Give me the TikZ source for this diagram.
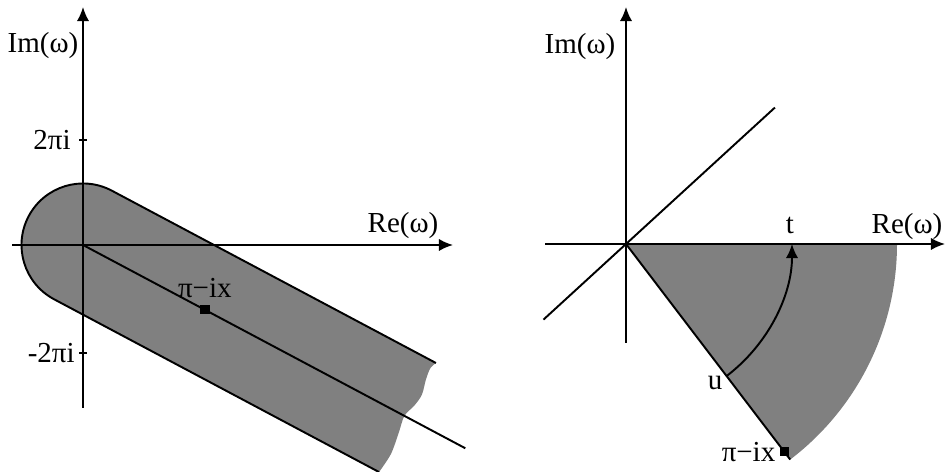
\documentclass[tikz,border=0pt]{standalone}
\usepackage{fontspec}
\setmainfont{Liberation Serif}
\usetikzlibrary{arrows.meta, positioning}

\begin{document}
\begin{tikzpicture}[x=0.02cm, y=0.02cm,
    axis/.style={-{Latex[length=8pt, width=7pt]}, line width=1.1pt},
    edge/.style={line width=1.1pt},
    region/.style={fill=black!50},
    lbl/.style={font=\fontsize{16.5}{19}\selectfont, inner sep=0pt},
    pt/.style={rectangle, fill=black, inner sep=0pt, minimum size=5.3pt},
]
\useasboundingbox (0,0) rectangle (946,472);

% left plane
\coordinate (o1) at (83,227);
\coordinate (xl1) at (12,227);
\coordinate (xr1) at (453,227);
\coordinate (yb1) at (83,64);
\coordinate (yt1) at (83,465);
\begin{scope}[shift={(o1)}, rotate=-28]
  \coordinate (top0) at (0,61.5);
  \coordinate (top1) at (367,61.5);
  \coordinate (bot1) at (368,-61.5);
  \coordinate (c1) at (433,0);
  \fill[region] (top0) arc[start angle=90, end angle=270, radius=61.5] -- (bot1)
     -- plot[smooth, tension=0.5] coordinates {(368,-61.5) (370,-40) (367,-18) (364,0) (368,14) (369.5,27) (366,42) (364.5,54) (367,61.5)}
     -- cycle;
  \draw[edge] (top1) -- (top0) arc[start angle=90, end angle=270, radius=61.5] -- (bot1);
  \node[pt] (p1) at (138,0) {};
\end{scope}
\draw[edge] (o1) -- (c1);
\draw[axis] (xl1) -- (xr1);
\draw[axis] (yb1) -- (yt1);
\coordinate (tk1) at (83,332);
\coordinate (tk2) at (83,119);
\draw[edge] (tk1) ++(-4,0) -- ++(8,0);
\draw[edge] (tk2) ++(-4,0) -- ++(8,0);
\node[lbl] (im1) at (43,426) {Im(ω)};
\node[lbl] (re1) at (403,246) {Re(ω)};
\node[lbl, anchor=east] (up1) at (71,332) {2πi};
\node[lbl, anchor=east] (dn1) at (75,119) {-2πi};
\node[lbl, above=4pt of p1.north] (lp1) {π−ix};

% right plane
\coordinate (o2) at (626,228);
\coordinate (xl2) at (545,228);
\coordinate (xr2) at (945,228);
\coordinate (yb2) at (626,129);
\coordinate (yt2) at (626,465);
\begin{scope}[shift={(o2)}]
  \coordinate (tip2) at (-52.7:271);
  \coordinate (d1) at (222.5:112);
  \coordinate (d2) at (42.5:202);
  \coordinate (u) at (-52.7:166);
  \coordinate (t) at (0:166);
  \fill[region] (0,0) -- (tip2) arc[start angle=-52.7, end angle=0, radius=271] -- cycle;
  \node[pt] (p2) at (-52.7:261) {};
\end{scope}
\draw[edge] (o2) -- (tip2);
\draw[axis] (xl2) -- (xr2);
\draw[axis] (yb2) -- (yt2);
\draw[edge] (d1) -- (d2);
\draw[axis] (u) arc[start angle=-52.7, end angle=0, radius=166];
\node[lbl] (im2) at (580,425) {Im(ω)};
\node[lbl] (re2) at (907,245) {Re(ω)};
\node[lbl] (lt) at (790,247) {t};
\node[lbl] (lu) at (715,89) {u};
\node[lbl, anchor=east] (lp2) at ([xshift=-2pt]p2.west) {π−ix};
\end{tikzpicture}
\end{document}
